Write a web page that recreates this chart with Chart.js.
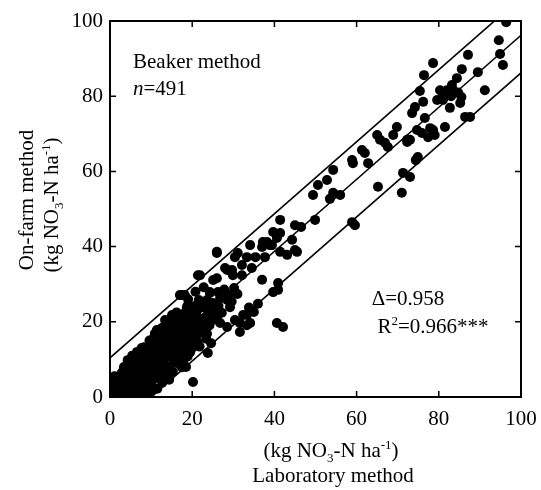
<!DOCTYPE html>
<html><head><meta charset="utf-8">
<script src="https://cdn.jsdelivr.net/npm/chart.js@4.4.1/dist/chart.umd.min.js"></script>
<style>html,body{margin:0;padding:0;background:#fff;}#wrap{width:541px;height:490px;}</style>
</head><body><div id="wrap"><canvas id="c" width="541" height="490"></canvas></div>
<script>
// Laboratory method (x) values, kg NO3-N/ha
const labX = [
96.4,94.6,94.9,95.6,87.1,85.6,89.5,78.6,76.4,84.4,83.2,80.3,75.4,81.5,83.0,84.7,85.5,79.6,85.2,76.2,74.2,73.5,82.7,86.4,87.6,91.2,76.6,69.8,68.9,72.3,74.7,78.6,79.0,77.4,81.5,65.0,65.7,66.9,67.6,61.3,62.0,62.8,58.9,59.1,54.3,52.8,50.6,49.4,74.9,74.4,71.3,73.0,71.0,65.2,54.3,56.0,53.5,49.9,46.5,58.9,59.6,
83.5,82.0,80.8,81.0,75.9,77.9,73.0,72.3,
41.4,45.0,39.7,41.4,40.6,38.2,37.0,39.4,44.3,41.4,43.1,37.7,45.0,45.5,
26.0,31.1,33.3,30.4,34.1,32.1,34.5,29.7,28.0,29.9,32.1,40.9,21.9,25.1,26.0,39.7,40.9,17.0,18.2,24.3,23.6,22.4,21.2,26.8,28.5,29.2,18.7,19.5,25.1,26.0,32.4,33.3,34.1,30.4,31.6,26.8,28.5,21.9,21.2,23.6,40.6,42.1,31.6,33.3,23.8,19.5,20.2,
37.2,38.9,28.5,26.0,24.3,35.4,21.4,17.5,26.3,19.0,21.2,15.1,16.3,12.7,11.4,23.6,
0.3,0.5,1.2,0.2,1.0,1.5,2.0,1.8,0.8,2.5,2.2,
2.8,3.0,3.3,3.5,3.8,2.6,4.0,3.2,4.2,4.5,3.6,
4.8,5.0,5.2,5.5,4.6,5.8,6.0,5.3,4.4,6.2,5.6,4.9,6.3,5.1,
6.5,6.8,7.0,7.2,6.6,7.5,7.8,7.3,6.9,7.6,8.0,7.1,6.4,7.9,
8.2,8.5,8.8,9.0,8.3,9.2,9.5,9.7,10.0,8.6,9.3,9.9,8.0,
10.3,10.5,10.8,11.0,11.2,11.5,11.7,11.8,10.6,11.4,12.0,10.1,
12.2,12.5,12.9,13.0,13.3,13.5,13.8,12.7,14.0,13.6,12.3,
14.3,14.6,14.8,15.0,15.3,15.5,15.8,15.2,14.4,16.0,
16.3,16.5,16.8,17.0,17.3,17.5,17.8,16.2,18.0,
18.3,18.6,18.9,19.2,19.5,19.8,20.0,18.5,19.0,
20.3,20.6,21.0,21.4,21.8,22.0,20.8,21.6,
22.5,23.0,23.4,23.8,24.2,24.6,25.0,22.8,
0.6,1.4,2.3,2.9,3.4,1.1,0.4,2.0,2.7,3.9,4.3,4.7,5.4,5.9,6.1,6.7,7.4,7.7,8.1,8.4,8.7,8.9,9.4,9.6,9.8,10.2,10.4,10.7,10.9,11.3,11.6,11.9,12.1,12.4,12.6,12.8,13.1,13.4,13.7,13.9,
14.2,14.5,14.7,14.9,15.1,15.4,15.7,15.9,16.1,16.4,16.6,16.9,17.2,17.4,17.7,17.9,18.2,18.4,18.8,19.1,19.4,19.7,20.1,20.5,20.9,21.3,21.7,22.2,22.6,23.2,23.6,24.0,24.4,25.4,26.4,27.2,27.8,28.8,29.6,30.2,31.0,33.8,35.0,36.0,37.0
];
// On-farm method (y) values, kg NO3-N/ha
const farmY = [
99.7,94.9,91.2,88.3,91.0,87.2,86.4,88.8,85.6,84.8,83.0,81.6,81.4,80.6,80.0,81.0,79.8,79.0,78.2,78.5,77.1,75.5,76.9,74.5,74.5,81.6,74.2,71.8,69.7,68.4,71.0,71.0,69.7,69.1,71.8,69.7,68.4,67.6,66.5,65.7,64.9,62.2,63.0,62.2,60.4,57.7,56.4,53.7,63.8,63.0,59.6,58.5,54.3,55.9,54.3,53.7,52.7,47.1,45.2,46.5,45.7,
81.6,81.6,81.1,79.0,70.2,71.5,68.4,67.8,
47.1,45.7,43.9,43.6,42.3,41.2,39.9,40.4,41.8,38.6,37.8,37.2,39.1,38.6,
38.3,38.3,37.2,37.2,40.4,35.1,34.3,33.8,34.3,32.4,32.4,30.3,32.4,31.1,31.6,27.9,28.5,27.1,27.1,27.9,25.8,25.3,24.5,26.3,25.8,23.9,23.9,22.3,23.1,21.3,21.8,21.8,19.7,20.5,19.7,19.7,18.6,20.5,18.6,19.7,19.7,18.6,17.3,19.1,11.7,11.9,4.0,
41.2,40.4,33.8,38.6,27.7,37.2,32.4,27.1,27.9,24.5,23.1,21.8,21.0,18.4,17.8,25.0,
0.5,1.5,2.7,0.0,0.2,1.0,0.3,3.5,1.0,0.5,2.0,
1.2,3.0,4.5,0.6,2.2,5.2,6.0,1.8,0.2,3.5,7.0,
1.5,4.8,6.5,2.6,8.2,0.5,5.5,9.5,4.0,3.2,7.5,0.3,8.5,2.0,
1.0,6.8,4.3,10.5,12.0,2.2,8.0,0.4,9.3,5.8,11.5,3.0,6.2,0.3,
3.8,7.2,9.8,5.0,13.2,2.0,11.0,8.3,12.5,0.6,6.3,14.4,10.0,
4.3,8.8,10.6,6.6,13.8,2.2,17.8,11.7,15.6,9.5,7.6,1.5,
12.4,14.2,17.8,9.0,6.0,11.0,15.6,3.8,13.0,19.0,10.0,
8.2,16.8,11.4,14.0,6.7,18.0,12.8,21.5,4.6,10.0,
15.4,9.0,20.0,13.0,17.3,7.9,11.5,22.5,16.4,
19.5,14.4,10.8,21.0,17.0,12.8,24.0,8.0,26.0,
19.0,15.0,22.0,16.8,13.4,20.5,28.0,25.8,
17.5,21.0,15.5,23.0,19.0,14.3,25.0,29.2,
3.0,4.2,3.6,6.5,8.0,5.5,2.2,1.3,2.6,4.8,9.8,6.2,11.0,9.0,11.2,3.8,7.2,13.0,6.0,1.5,4.6,11.8,3.2,15.0,9.5,7.2,13.0,5.2,16.8,12.0,8.0,14.5,5.0,16.0,8.4,13.6,11.8,20.5,8.0,17.0,
10.8,14.8,19.5,7.0,12.2,16.0,9.5,20.0,13.8,18.0,11.8,15.8,20.8,14.0,18.8,9.8,13.2,22.6,17.8,15.4,19.6,23.0,16.8,21.5,18.2,14.6,20.0,23.8,19.8,18.0,16.8,21.4,24.5,20.6,24.2,22.4,28.6,27.2,25.4,29.0,27.4,23.8,22.6,24.8,31.2
];
// Regression line and +/- band lines
const lineX = [0, 100];
const centerY = [0.4, 96.2];
const upperY = [10.4, 106.2];
const lowerY = [-9.6, 86.2];
const tickValues = [0, 20, 40, 60, 80, 100];

const pts = labX.map((x, i) => ({x: x, y: farmY[i]}));
const mk = ys => lineX.map((x, i) => ({x: x, y: ys[i]}));
const SERIF = '"Liberation Serif","Times New Roman",serif';
const FS = 21;

function drawRich(ctx, segs, x, y, size) {
  let w = 0;
  const fonts = segs.map(s => {
    const sz = (s[1] === 1 || s[1] === 2) ? Math.round(size * 0.62) : size;
    const f = (s[1] === 3 ? 'italic ' : '') + sz + 'px ' + SERIF;
    ctx.font = f; const mw = ctx.measureText(s[0]).width; w += mw; return {f, mw};
  });
  let cx = x - w / 2;
  segs.forEach((s, i) => {
    ctx.font = fonts[i].f;
    const dy = s[1] === 1 ? size * 0.22 : (s[1] === 2 ? -size * 0.38 : 0);
    ctx.textAlign = 'left';
    ctx.fillText(s[0], cx, y + dy);
    cx += fonts[i].mw;
  });
}

const framePlugin = {
  id: 'frame',
  afterDraw(chart) {
    const {ctx, chartArea: a, scales: {x, y}} = chart;
    ctx.save();
    ctx.strokeStyle = '#000'; ctx.lineWidth = 2;
    ctx.strokeRect(a.left, a.top, a.right - a.left, a.bottom - a.top);
    ctx.lineWidth = 1.5;
    tickValues.forEach(v => {
      const px = x.getPixelForValue(v), py = y.getPixelForValue(v);
      ctx.beginPath();
      ctx.moveTo(px, a.bottom); ctx.lineTo(px, a.bottom - 6);
      ctx.moveTo(px, a.top); ctx.lineTo(px, a.top + 6);
      ctx.moveTo(a.left, py); ctx.lineTo(a.left + 6, py);
      ctx.moveTo(a.right, py); ctx.lineTo(a.right - 6, py);
      ctx.stroke();
    });
    ctx.fillStyle = '#000'; ctx.textBaseline = 'alphabetic';
    const S = FS;
    ctx.font = S + 'px ' + SERIF; ctx.textAlign = 'left';
    ctx.fillText('Beaker method', 133, 68);
    ctx.font = 'italic ' + S + 'px ' + SERIF; ctx.fillText('n', 133, 95);
    const nw = ctx.measureText('n').width;
    ctx.font = S + 'px ' + SERIF; ctx.fillText('=491', 133 + nw, 95);
    drawRich(ctx, [['\u0394=0.958', 0]], 408, 305, S);
    drawRich(ctx, [['R', 0], ['2', 2], ['=0.966***', 0]], 433, 333, S);
    const unit = [['(kg NO', 0], ['3', 1], ['-N ha', 0], ['-1', 2], [')', 0]];
    drawRich(ctx, unit, 331, 457, S);
    drawRich(ctx, [['Laboratory method', 0]], 333, 482, S);
    ctx.save();
    ctx.rotate(-Math.PI / 2);
    drawRich(ctx, [['On-farm method', 0]], -200, 33, S);
    drawRich(ctx, unit, -205, 58, S);
    ctx.restore();
    ctx.restore();
  }
};

new Chart(document.getElementById('c'), {
  type: 'scatter',
  data: {
    datasets: [
      {data: pts, backgroundColor: '#000', borderColor: '#000', pointRadius: 5, pointHoverRadius: 5, borderWidth: 0, order: 2},
      {data: mk(centerY), showLine: true, borderColor: '#000', borderWidth: 1.6, pointRadius: 0, clip: 0, order: 1},
      {data: mk(upperY), showLine: true, borderColor: '#000', borderWidth: 1.6, pointRadius: 0, clip: 0, order: 1},
      {data: mk(lowerY), showLine: true, borderColor: '#000', borderWidth: 1.6, pointRadius: 0, clip: 0, order: 1}
    ]
  },
  options: {
    responsive: false, animation: false, devicePixelRatio: 1,
    layout: {padding: {left: 0, right: 20, top: 21, bottom: 0}},
    plugins: {legend: {display: false}, tooltip: {enabled: false}},
    scales: {
      x: {
        type: 'linear', min: 0, max: 100,
        afterFit: s => { s.height = 93; s.paddingLeft = 0; s.paddingRight = 0; },
        grid: {display: false, drawTicks: false}, border: {display: false},
        ticks: {stepSize: 20, padding: 10, color: '#000', font: {family: SERIF, size: FS}, maxRotation: 0}
      },
      y: {
        type: 'linear', min: 0, max: 100,
        afterFit: s => { s.width = 110; s.paddingTop = 0; s.paddingBottom = 0; },
        grid: {display: false, drawTicks: false}, border: {display: false},
        ticks: {stepSize: 20, padding: 7, color: '#000', font: {family: SERIF, size: FS}}
      }
    }
  },
  plugins: [framePlugin]
});
</script></body></html>
